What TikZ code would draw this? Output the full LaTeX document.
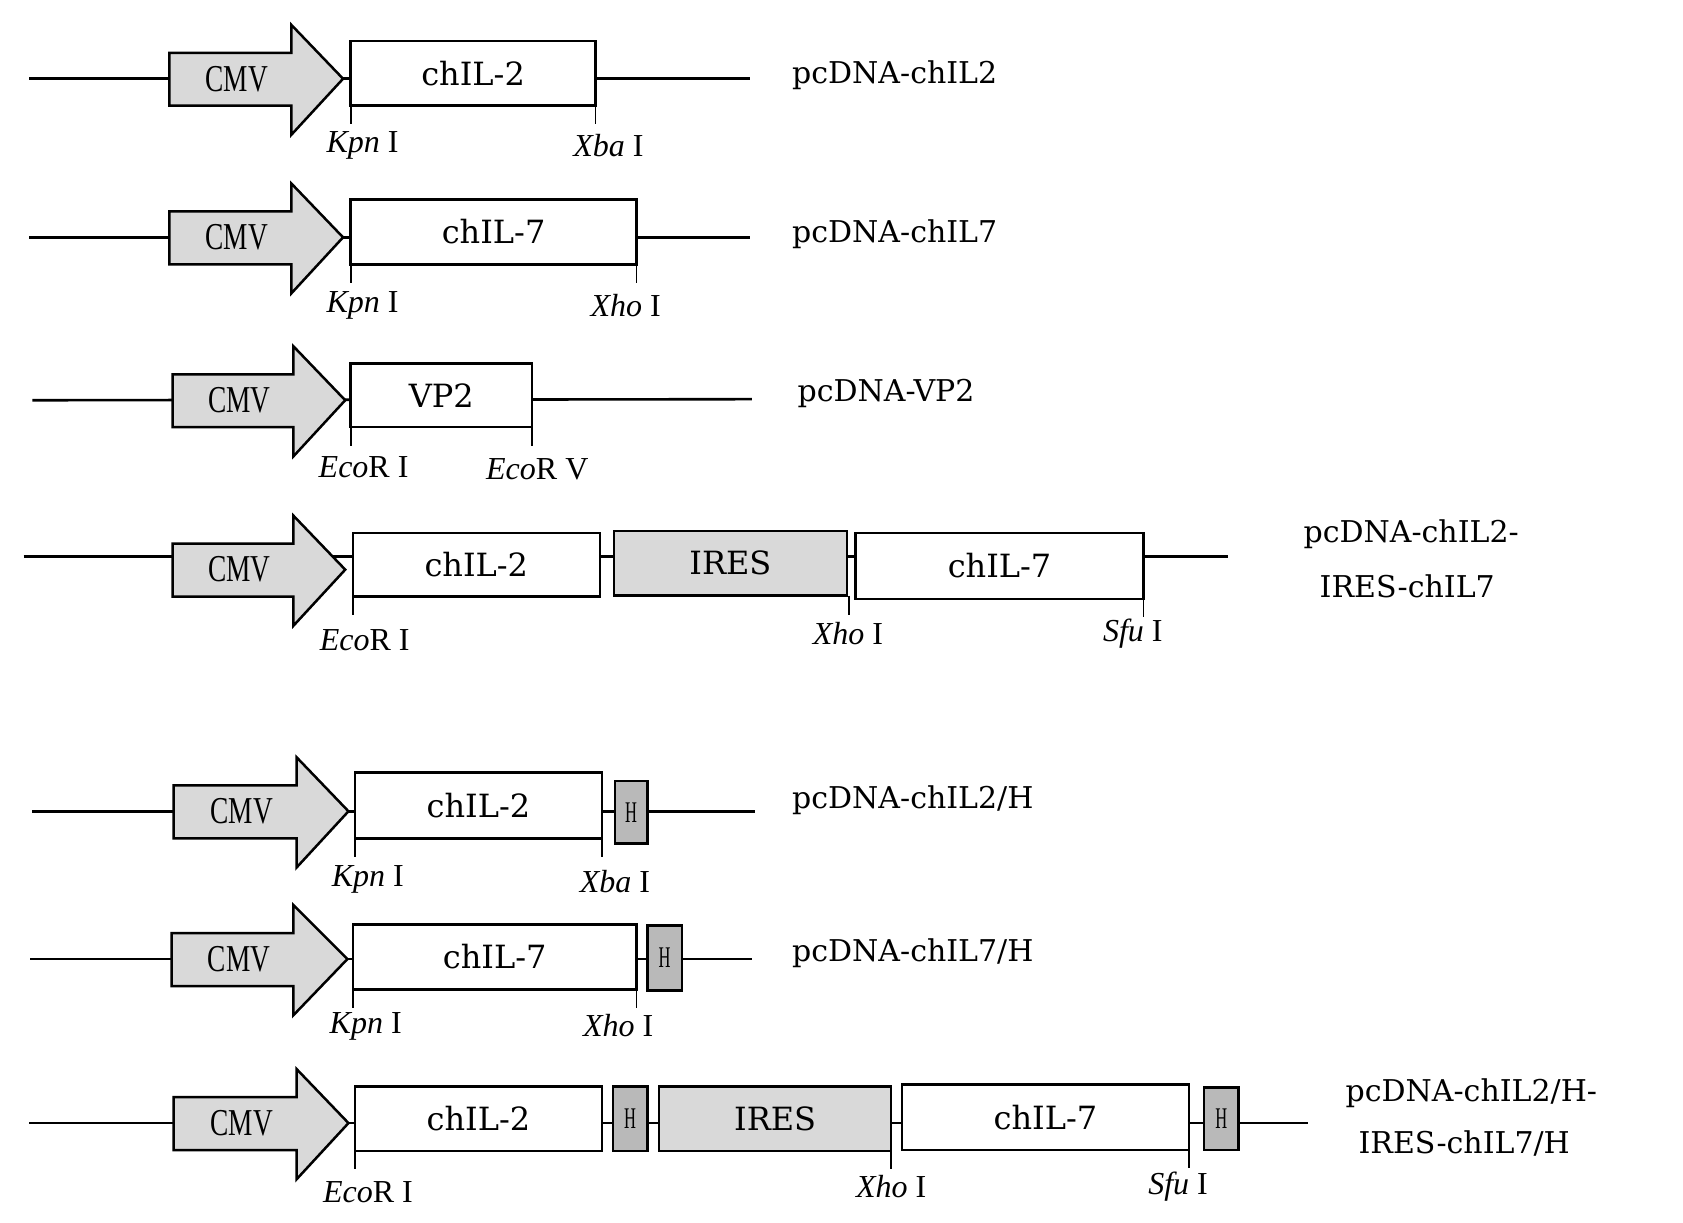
\documentclass[tikz,border=0pt]{standalone}
\usepackage{fontspec}
\setmainfont{Liberation Serif}
\newfontfamily\wide{DejaVu Serif}
\newcommand\cmvarrow[4]{% x0, xb, tip, y
  \draw[cmvbox] (#1,#4-24)--(#2,#4-24)--(#2,#4-50)--(#3,#4)--(#2,#4+52)--(#2,#4+25)--(#1,#4+25)--cycle;
  \node[cmvtext] at ({(#1+#2)/2+6},#4) {CMV};}
\begin{document}
\begin{tikzpicture}[x=1.079pt,y=-1.079pt,
  backbone/.style={line width=2.6pt},
  cmvbox/.style={line width=2.5pt,fill=gray!30,line join=miter},
  cmvtext/.style={font=\fontsize{38}{38}\selectfont,xscale=0.72},
  genebox/.style={line width=2.5pt,fill=white},
  iresbox/.style={line width=2.5pt,fill=gray!30},
  hisbox/.style={line width=2.5pt,fill=gray!55},
  genelbl/.style={font=\wide\fontsize{32}{32}\selectfont},
  hlbl/.style={font=\fontsize{30}{30}\selectfont,xscale=0.55},
  sitelbl/.style={font=\fontsize{32}{32}\selectfont},
  vecname/.style={font=\wide\fontsize{30}{30}\selectfont,anchor=west},
  sitetick/.style={line width=1.8pt}]
\useasboundingbox (0,0) rectangle (1560,1133);
% Row 1
\coordinate (a1) at (27,73); \coordinate (b1) at (695,73);
\draw[backbone] (a1)--(b1);
\cmvarrow{157}{270}{318}{73}
\draw[genebox] (325,38) rectangle node[genelbl]{chIL-2} (552,98);
\draw[sitetick] (325,98)--(325,115) (552,98)--(552,115);
\node[sitelbl] at (336,135) {\textit{Kpn} I};
\node[sitelbl] at (564,135) {\textit{Xba} I};
\node[vecname] (n1) at (731,70) {pcDNA-chIL2};
% Row 2
\coordinate (a2) at (27,220); \coordinate (b2) at (695,220);
\draw[backbone] (a2)--(b2);
\cmvarrow{157}{270}{318}{220}
\draw[genebox] (325,185) rectangle node[genelbl]{chIL-7} (590,245);
\draw[sitetick] (325,245)--(325,262) (590,245)--(590,262);
\node[sitelbl] at (336,283) {\textit{Kpn} I};
\node[sitelbl] at (580,283) {\textit{Xho} I};
\node[vecname] (n2) at (731,217) {pcDNA-chIL7};
% Row 3
\coordinate (a3) at (30,371); \coordinate (b3) at (697,370);
\draw[backbone] (a3)--(b3);
\cmvarrow{160}{272}{320}{371}
\draw[genebox] (325,337) rectangle node[genelbl]{VP2} (493,396);
\draw[sitetick] (325,396)--(325,413) (493,396)--(493,413);
\node[sitelbl] at (337,433) {\textit{Eco}R I};
\node[sitelbl] at (498,435) {\textit{Eco}R V};
\node[vecname] (n3) at (736,365) {pcDNA-VP2};
% Row 4
\coordinate (a4) at (22,516); \coordinate (b4) at (1138,516);
\draw[backbone] (a4)--(b4);
\cmvarrow{160}{272}{320}{528}
\draw[genebox] (327,494) rectangle node[genelbl]{chIL-2} (556,553);
\draw[iresbox] (569,492) rectangle node[genelbl]{IRES} (785,552);
\draw[genebox] (793,494) rectangle node[genelbl]{chIL-7} (1060,555);
\draw[sitetick] (327,553)--(327,570) (787,552)--(787,570) (1060,555)--(1060,572);
\node[sitelbl] at (338,593) {\textit{Eco}R I};
\node[sitelbl] at (786,587) {\textit{Xho} I};
\node[sitelbl] at (1050,587) {\textit{Sfu} I};
\node[vecname] (n4) at (1205,495) {pcDNA-chIL2-};
\node[vecname] (n4b) at (1220,543) {IRES-chIL7};
% Row 5
\coordinate (a5) at (30,752); \coordinate (b5) at (700,752);
\draw[backbone] (a5)--(b5);
\cmvarrow{161}{275}{323}{752}
\draw[genebox] (329,716) rectangle node[genelbl]{chIL-2} (558,777);
\draw[hisbox] (570,724) rectangle node[hlbl]{H} (600,782);
\draw[sitetick] (329,777)--(329,794) (558,777)--(558,794);
\node[sitelbl] at (341,815) {\textit{Kpn} I};
\node[sitelbl] at (570,817) {\textit{Xba} I};
\node[vecname] (n5) at (731,742) {pcDNA-chIL2/H};
% Row 6
\coordinate (a6) at (28,889); \coordinate (b6) at (697,889);
\draw[backbone] (a6)--(b6);
\cmvarrow{159}{272}{322}{889}
\draw[genebox] (327,857) rectangle node[genelbl]{chIL-7} (590,917);
\draw[hisbox] (600,858) rectangle node[hlbl]{H} (632,918);
\draw[sitetick] (327,917)--(327,934) (590,917)--(590,934);
\node[sitelbl] at (339,951) {\textit{Kpn} I};
\node[sitelbl] at (573,951) {\textit{Xho} I};
\node[vecname] (n6) at (731,884) {pcDNA-chIL7/H};
% Row 7
\coordinate (a7) at (27,1041); \coordinate (b7) at (1212,1041);
\draw[backbone] (a7)--(b7);
\cmvarrow{161}{275}{323}{1041}
\draw[genebox] (329,1007) rectangle node[genelbl]{chIL-2} (558,1067);
\draw[hisbox] (568,1007) rectangle node[hlbl]{H} (600,1067);
\draw[iresbox] (611,1007) rectangle node[genelbl]{IRES} (826,1067);
\draw[genebox] (836,1005) rectangle node[genelbl]{chIL-7} (1102,1066);
\draw[hisbox] (1116,1008) rectangle node[hlbl]{H} (1148,1066);
\draw[sitetick] (329,1067)--(329,1084) (826,1067)--(826,1084) (1102,1066)--(1102,1083);
\node[sitelbl] at (341,1105) {\textit{Eco}R I};
\node[sitelbl] at (826,1100) {\textit{Xho} I};
\node[sitelbl] at (1092,1100) {\textit{Sfu} I};
\node[vecname] (n7) at (1244,1013) {pcDNA-chIL2/H-};
\node[vecname] (n7b) at (1256,1060) {IRES-chIL7/H};
\end{tikzpicture}
\end{document}
